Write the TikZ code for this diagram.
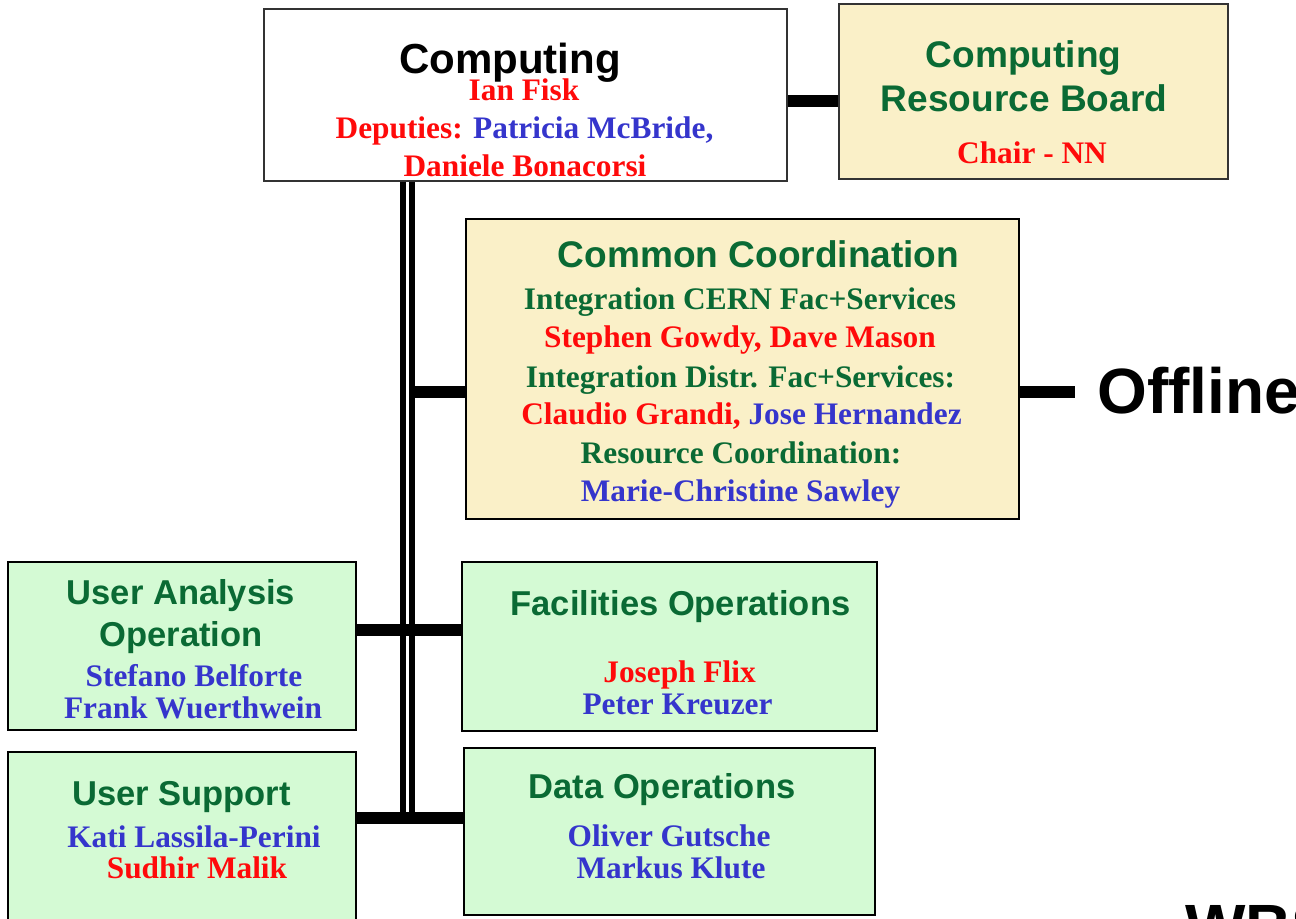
\documentclass[tikz,border=0pt]{standalone}
\usepackage{fontspec}
\setmainfont{Liberation Serif}
\setsansfont{Liberation Sans}
\definecolor{hdgreen}{HTML}{0A6A34}
\definecolor{nmred}{HTML}{FF0A0A}
\definecolor{nmblue}{HTML}{3535CC}
\definecolor{creamfill}{HTML}{FAF0C8}
\definecolor{mintfill}{HTML}{D4FAD4}
% font presets (sizes in pt, 1 unit = 0.75pt)
\newcommand\topfont{\sffamily\bfseries\fontsize{31.5}{36}\selectfont}
\newcommand\hdfont{\sffamily\bfseries\fontsize{27.8}{33}\selectfont}
\newcommand\subhdfont{\sffamily\bfseries\fontsize{25.9}{31}\selectfont}
\newcommand\nmfont{\rmfamily\bfseries\fontsize{23.5}{28}\selectfont}
\newcommand\bigfont{\sffamily\bfseries\fontsize{48}{56}\selectfont}
\begin{document}
\begin{tikzpicture}[x=0.75pt,y=-0.75pt,
  panel/.style={rectangle, inner sep=0, line width=1.5pt, draw=black},
  thinpanel/.style={rectangle, inner sep=0, line width=0.9pt, draw=black!80},
  txt/.style={inner sep=0, anchor=base},
  link/.style={line width=9pt, black},
  trunk/.style={line width=4.6pt, black}]
\useasboundingbox (0,0) rectangle (1296,918);
\clip (0,0) rectangle (1296,918);

% box outlines (texts are placed separately)
\path
  (525.5,95)  node[thinpanel, fill=white, minimum width=523*0.75pt, minimum height=172*0.75pt] (comp) {}
  (1033.5,91.5) node[thinpanel, fill=creamfill, minimum width=389*0.75pt, minimum height=175*0.75pt] (crb) {};

% bus coordinates
\coordinate (busA) at (403,818);
\coordinate (busB) at (412,818);

% connectors
\draw[trunk] (busA |- comp.south) -- (busA);
\draw[trunk] (busB |- comp.south) -- (busB);
\draw[link] (comp.east |- 0,101) -- (crb.west |- 0,101);

\path
  (742.5,369) node[panel, fill=creamfill, minimum width=553*0.75pt, minimum height=300*0.75pt] (cc) {}
  (182,646)   node[panel, fill=mintfill, minimum width=348*0.75pt, minimum height=168*0.75pt] (uao) {}
  (669.5,646.5) node[panel, fill=mintfill, minimum width=415*0.75pt, minimum height=169*0.75pt] (fac) {}
  (182,846)   node[panel, fill=mintfill, minimum width=348*0.75pt, minimum height=188*0.75pt] (us) {}
  (669.5,831.5) node[panel, fill=mintfill, minimum width=411*0.75pt, minimum height=167*0.75pt] (data) {};

\coordinate (offend) at (1075,392);
\draw[link] (busB |- 0,392) -- (cc.west |- 0,392);
\draw[link] (cc.east |- offend) -- (offend);
\draw[link] (uao.east |- 0,630) -- (fac.west |- 0,630);
\draw[link] (us.east |- 0,818) -- (data.west |- 0,818);

% Computing
\node[txt] (compT) at (510,73) {\topfont Computing};
\node[txt] (compA) at (524,100) {\nmfont\color{nmred}Ian Fisk};
\node[txt] (compB) at (524.5,138) {\nmfont{\color{nmred}Deputies:} {\color{nmblue}Patricia McBride,}};
\node[txt] (compC) at (525,176) {\nmfont\color{nmred}Daniele Bonacorsi};

% Computing Resource Board
\node[txt] (crbT1) at (1023.5,67) {\hdfont\color{hdgreen}Computing};
\node[txt] (crbT2) at (1024,111) {\hdfont\color{hdgreen}Resource Board};
\node[txt] (crbA) at (1032,163) {\nmfont\color{nmred}Chair - NN};

% Common Coordination
\node[txt] (ccT) at (758.5,267) {\hdfont\color{hdgreen}Common Coordination};
\node[txt] (cc1) at (740,309) {\nmfont\color{hdgreen}Integration CERN Fac+Services};
\node[txt] (cc2) at (740,347) {\nmfont\color{nmred}Stephen Gowdy, Dave Mason};
\node[txt] (cc3) at (740.5,387) {\nmfont\color{hdgreen}Integration Distr. Fac+Services:};
\node[txt] (cc4) at (741.5,424) {\nmfont{\color{nmred}Claudio Grandi,} {\color{nmblue}Jose Hernandez}};
\node[txt] (cc5) at (741,463) {\nmfont\color{hdgreen}Resource Coordination:};
\node[txt] (cc6) at (740.5,501) {\nmfont\color{nmblue}Marie-Christine Sawley};

% Offline
\node[inner sep=0, anchor=base west] (offl) at (1097,413) {\bigfont Offline};
\node[inner sep=0, anchor=base west] (wbs) at (1185,949) {\bigfont WBS};

% User Analysis Operation
\node[txt] (uaoT1) at (181,604) {\subhdfont\color{hdgreen}User Analysis};
\node[txt] (uaoT2) at (181,646) {\subhdfont\color{hdgreen}Operation};
\node[txt] (uaoA) at (194,686) {\nmfont\color{nmblue}Stefano Belforte};
\node[txt] (uaoB) at (193,718) {\nmfont\color{nmblue}Frank Wuerthwein};

% Facilities Operations
\node[txt] (facT) at (680.5,615) {\subhdfont\color{hdgreen}Facilities Operations};
\node[txt] (facA) at (679.5,682) {\nmfont\color{nmred}Joseph Flix};
\node[txt] (facB) at (677.5,714) {\nmfont\color{nmblue}Peter Kreuzer};

% User Support
\node[txt] (usT) at (181.5,805) {\subhdfont\color{hdgreen}User Support};
\node[txt] (usA) at (194,847) {\nmfont\color{nmblue}Kati Lassila-Perini};
\node[txt] (usB) at (197,878) {\nmfont\color{nmred}Sudhir Malik};

% Data Operations
\node[txt] (dataT) at (662,798) {\subhdfont\color{hdgreen}Data Operations};
\node[txt] (dataA) at (669,846) {\nmfont\color{nmblue}Oliver Gutsche};
\node[txt] (dataB) at (671,878) {\nmfont\color{nmblue}Markus Klute};
\end{tikzpicture}
\end{document}
